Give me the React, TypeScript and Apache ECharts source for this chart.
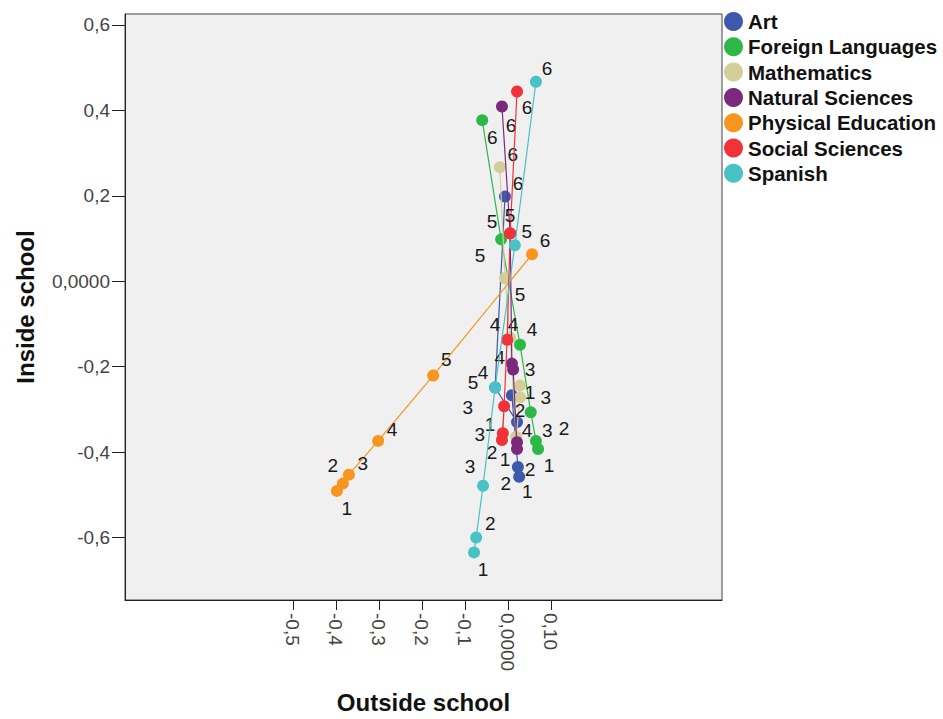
import React, { useEffect, useRef } from "react";
import * as echarts from "echarts";

const seriesNames = [
  "Art",
  "Foreign Languages",
  "Mathematics",
  "Natural Sciences",
  "Physical Education",
  "Social Sciences",
  "Spanish",
];
const pointLabels = ["1", "2", "3", "4", "5", "6"];

// Outside school (x) values, points 1..6
const artX = [0.026, 0.023, 0.009, 0.021, -0.03, -0.007];
const foreignX = [0.07, 0.065, 0.053, 0.028, -0.016, -0.06];
const mathX = [0.028, 0.028, 0.019, 0.005, -0.007, -0.019];
const naturalX = [0.021, 0.021, 0.012, 0.009, 0.005, -0.014];
const physicalX = [-0.398, -0.384, -0.37, -0.302, -0.174, 0.056];
const socialX = [-0.009, -0.014, -0.012, -0.002, 0.005, 0.021];
const spanishX = [-0.079, -0.074, -0.058, -0.03, 0.016, 0.065];

// Inside school (y) values, points 1..6
const artY = [-0.458, -0.435, -0.267, -0.33, -0.249, 0.198];
const foreignY = [-0.393, -0.374, -0.307, -0.149, 0.098, 0.377];
const mathY = [-0.244, -0.272, -0.365, -0.133, 0.007, 0.267];
const naturalY = [-0.377, -0.393, -0.207, -0.193, 0.112, 0.409];
const physicalY = [-0.491, -0.474, -0.453, -0.374, -0.221, 0.063];
const socialY = [-0.293, -0.372, -0.356, -0.137, 0.112, 0.444];
const spanishY = [-0.635, -0.6, -0.479, -0.249, 0.084, 0.467];

const xTicks = [-0.5, -0.4, -0.3, -0.2, -0.1, 0, 0.1];
const xTickLabels = ["-0,5", "-0,4", "-0,3", "-0,2", "-0,1", "0,0000", "0,10"];
const yTicks = [-0.6, -0.4, -0.2, 0, 0.2, 0.4, 0.6];
const yTickLabels = ["-0,6", "-0,4", "-0,2", "0,0000", "0,2", "0,4", "0,6"];

// styling: colours and label offsets (pixels) for points 1..6
const colors = ["#3E58AC", "#2EB848", "#D3CE97", "#7C287D", "#F7951E", "#EF3338", "#48C2C5"];
const labelOffsets = [
  [[8, 15], [-12, 17], [-44, 12], [10, 8], [-22, -5], [13, -13]],
  [[11, 16], [28, -12], [15, -15], [12, -15], [-21, 16], [10, 17]],
  [[10, 7], [0, 13], [31, -7], [3, -13], [15, 16], [13, -13]],
  [[-12, 17], [13, 20], [17, 0], [-12, -6], [-18, -12], [9, 19]],
  [[10, 18], [-10, -18], [14, -11], [14, -11], [13, -16], [13, -14]],
  [[-14, 18], [-10, 12], [-23, 1], [-12, -15], [0, -18], [10, 16]],
  [[9, 17], [14, -14], [-13, -19], [-12, -15], [12, -14], [11, -13]],
];

const xs = [artX, foreignX, mathX, naturalX, physicalX, socialX, spanishX];
const ys = [artY, foreignY, mathY, naturalY, physicalY, socialY, spanishY];

const X_MIN = -0.8907;
const X_MAX = 0.4977;
const Y_MIN = -0.7465;
const Y_MAX = 0.6256;
const FONT = "Liberation Sans, Arial, sans-serif";

export default function App() {
  const ref = useRef<HTMLDivElement>(null);
  useEffect(() => {
    if (!ref.current) return;
    const chart = echarts.init(ref.current, null, { renderer: "svg" });
    const fmt = (ticks: number[], labels: string[]) => (v: number) => {
      const i = ticks.findIndex((t) => Math.abs(t - v) < 1e-6);
      return i >= 0 ? labels[i] : "";
    };
    const series = seriesNames.map((name, si) => ({
      name,
      type: "line",
      symbol: "circle",
      symbolSize: 12,
      showSymbol: true,
      color: colors[si],
      lineStyle: { width: 1.2, color: colors[si] },
      itemStyle: { color: colors[si] },
      emphasis: { disabled: true },
      z: 2 + si,
      data: xs[si].map((x, pi) => ({
        value: [x, ys[si][pi]],
        label: {
          show: true,
          position: "inside",
          offset: labelOffsets[si][pi],
          formatter: pointLabels[pi],
          color: "#1a1a1a",
          fontSize: 19,
          fontFamily: FONT,
        },
      })),
    }));
    chart.setOption({
      animation: false,
      backgroundColor: "#ffffff",
      grid: {
        left: 125,
        top: 14,
        width: 597,
        height: 590,
        show: true,
        backgroundColor: "#F0F0F0",
        borderColor: "#444",
        borderWidth: 1,
      },
      legend: {
        orient: "vertical",
        left: 724,
        top: 11,
        padding: 0,
        icon: "circle",
        itemWidth: 19,
        itemHeight: 19,
        itemGap: 4.3,
        selectedMode: false,
        textStyle: {
          fontWeight: "bold",
          fontSize: 20.5,
          lineHeight: 19,
          color: "#111",
          fontFamily: FONT,
        },
        data: seriesNames,
      },
      xAxis: {
        type: "value",
        min: X_MIN,
        max: X_MAX,
        name: "Outside school",
        nameLocation: "middle",
        nameGap: 90,
        nameTextStyle: {
          fontWeight: "bold",
          fontSize: 24,
          color: "#111",
          fontFamily: FONT,
        },
        splitLine: { show: false },
        axisLine: { show: true, onZero: false, lineStyle: { color: "#222", width: 1 } },
        axisTick: { show: true, length: 10, lineStyle: { color: "#222" }, customValues: xTicks },
        axisLabel: {
          show: true,
          rotate: -90,
          customValues: xTicks,
          formatter: fmt(xTicks, xTickLabels),
          fontSize: 19,
          color: "#444",
          margin: 13,
          fontFamily: FONT,
        },
      },
      yAxis: {
        type: "value",
        min: Y_MIN,
        max: Y_MAX,
        name: "Inside school",
        nameLocation: "middle",
        nameGap: 88,
        nameRotate: 90,
        nameTextStyle: {
          fontWeight: "bold",
          fontSize: 24,
          color: "#111",
          fontFamily: FONT,
        },
        splitLine: { show: false },
        axisLine: { show: true, onZero: false, lineStyle: { color: "#222", width: 1 } },
        axisTick: { show: true, length: 13, lineStyle: { color: "#222" }, customValues: yTicks },
        axisLabel: {
          show: true,
          customValues: yTicks,
          formatter: fmt(yTicks, yTickLabels),
          fontSize: 19,
          color: "#444",
          margin: 15,
          fontFamily: FONT,
        },
      },
      series,
    });
    return () => chart.dispose();
  }, []);
  return <div ref={ref} style={{ width: 943, height: 719, position: "absolute", left: 0, top: 0 }} />;
}
